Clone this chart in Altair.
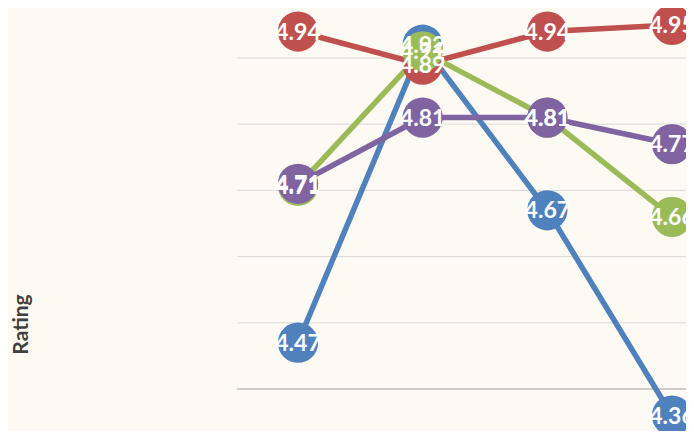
import altair as alt
import pandas as pd

periods = ["Period 1", "Period 2", "Period 3", "Period 4"]
series_names = ["Series 1", "Series 2", "Series 3", "Series 4"]
series_colors = ["#4F81BD", "#C0504D", "#9BBB59", "#8064A2"]
s1 = [4.47, 4.92, 4.67, 4.36]
s2 = [4.94, 4.89, 4.94, 4.95]
s3 = [4.707, 4.91, 4.81, 4.66]
s4 = [4.71, 4.81, 4.81, 4.77]
grid_values = [4.5, 4.6, 4.7, 4.8, 4.9]
base_values = [4.4]

rows = []
for name, vals in zip(series_names, [s1, s2, s3, s4]):
    for p, v in zip(periods, vals):
        rows.append({"Period": p, "Series": name, "Rating": v})
df = pd.DataFrame(rows)
grid_df = pd.DataFrame({"Rating": grid_values})
base_df = pd.DataFrame({"Rating": base_values})

yscale = alt.Scale(domain=[4.3366, 4.9755], nice=False, zero=False)
xscale = alt.Scale(type="point", domain=periods, range=[290, 664], padding=0)
cscale = alt.Scale(domain=series_names, range=series_colors)

y_axis = alt.Axis(title="Rating", labels=False, ticks=False, domain=False,
                  grid=False, titleX=13, titleY=316, titleAngle=-90,
                  titleAlign="center", titleBaseline="middle",
                  titleFont="Lato", titleFontSize=21, titleFontWeight="bold",
                  titleColor="#404040")

x_enc = alt.X("Period:N", scale=xscale, axis=None)
y_enc = alt.Y("Rating:Q", scale=yscale, axis=y_axis)
c_enc = alt.Color("Series:N", scale=cscale, legend=None)

grid = alt.Chart(grid_df).mark_rule(color="#D9D9D9", strokeWidth=1).encode(
    x=alt.value(229), x2=alt.value(678), y=y_enc)
base = alt.Chart(base_df).mark_rule(color="#BFBFBF", strokeWidth=1.5).encode(
    x=alt.value(229), x2=alt.value(678), y=y_enc)

lines = alt.Chart(df).mark_line(strokeWidth=5.5).encode(
    x=x_enc, y=y_enc, color=c_enc, detail="Series:N")
points = alt.Chart(df).mark_circle(size=1620, opacity=1).encode(
    x=x_enc, y=y_enc, color=c_enc)
labels = alt.Chart(df).mark_text(font="Lato", fontSize=23, fontWeight="bold",
                                 color="white", align="center", baseline="middle", dy=1).encode(
    x=x_enc, y=y_enc,
    text=alt.Text("Rating:Q", format=".2f"))

chart = alt.layer(grid, base, lines, points, labels).properties(
    width=678, height=423,
    autosize=alt.AutoSizeParams(type="none"),
    padding=0,
    background="#FDFAF3",
).configure_view(stroke=None)

chart.save("out.html", embed_options={"renderer": "svg", "actions": False})
